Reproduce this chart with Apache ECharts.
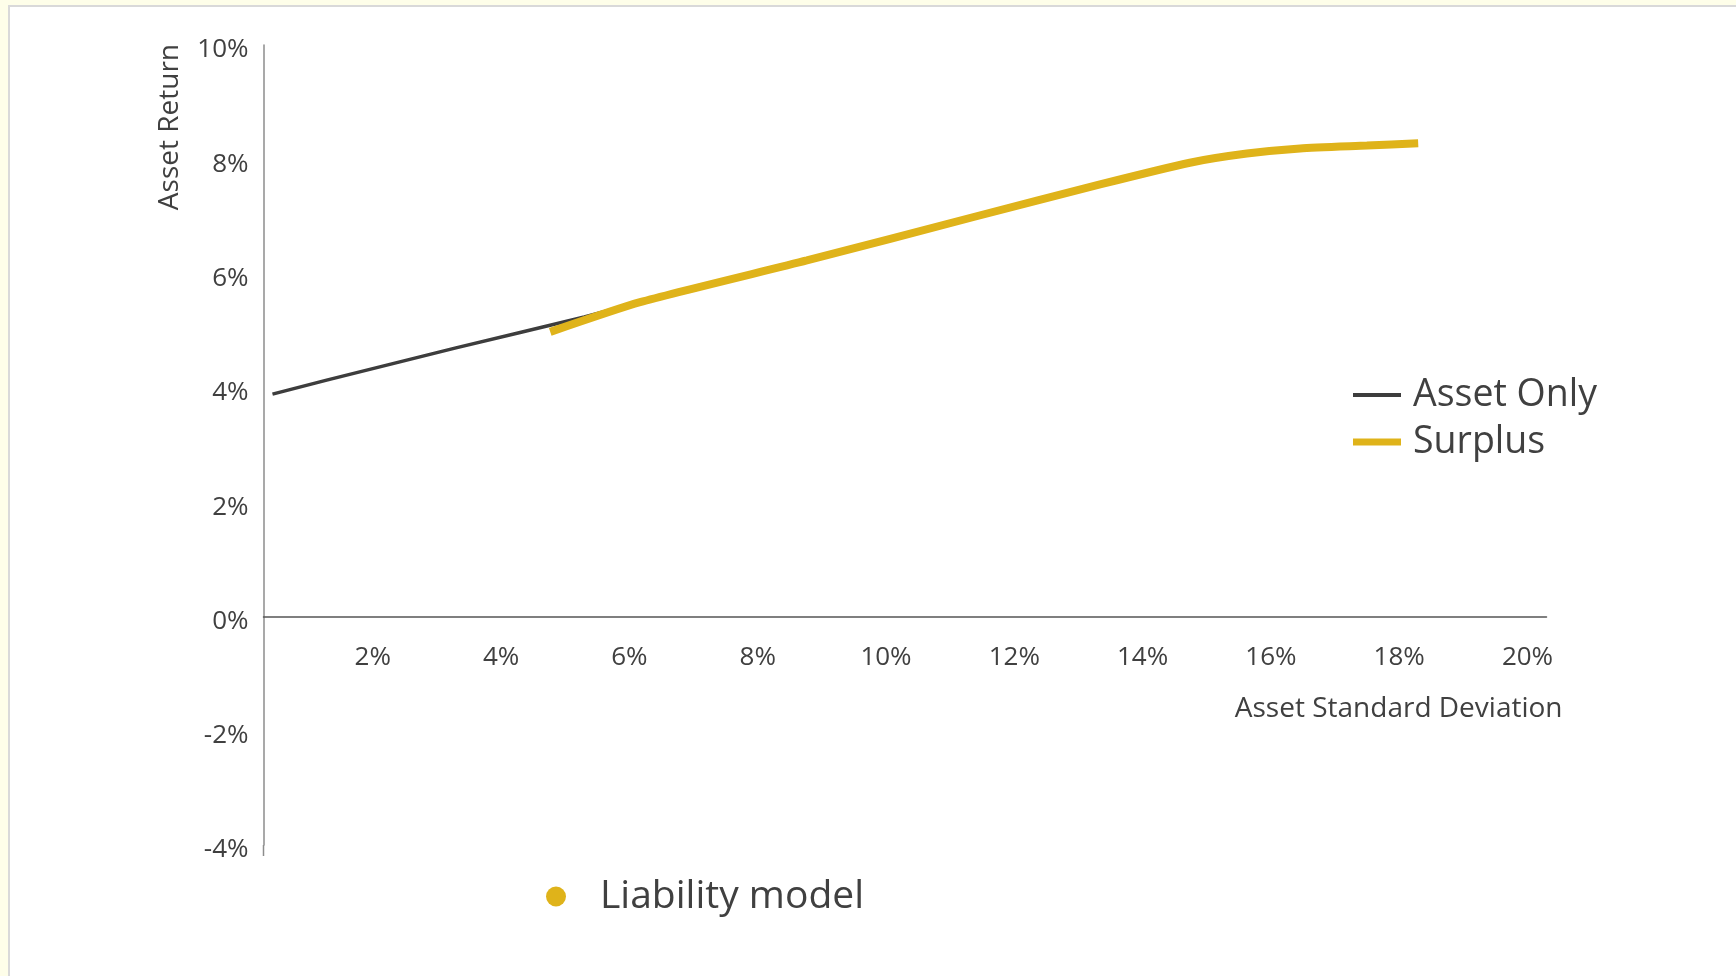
<!DOCTYPE html>
<html>
<head>
<meta charset="utf-8">
<title>Asset Return vs Asset Standard Deviation</title>
<script src="https://cdn.jsdelivr.net/npm/echarts@6/dist/echarts.min.js"></script>
<style>
  html, body { margin: 0; padding: 0; width: 1736px; height: 976px; overflow: hidden; background: #fefee9; }
  #panel { position: absolute; left: 8px; top: 5px; width: 1800px; height: 1000px; background: #ffffff; border-left: 2px solid #d9d9d9; border-top: 2px solid #d9d9d9; }
  #chart { position: absolute; left: 0; top: 0; width: 1736px; height: 976px; }
</style>
</head>
<body>
<div id="panel"></div>
<div id="chart"></div>
<script>
// Efficient frontiers: [standard deviation %, return %]
const assetOnly = [
  [0.14, 3.89], [1.0, 4.14], [2.0, 4.42], [3.0, 4.70],
  [4.0, 4.97], [5.0, 5.24], [5.87, 5.50], [6.2, 5.59]
];
const surplus = [
  [4.47, 4.98], [5.87, 5.50], [8.47, 6.23], [11.07, 6.99],
  [13.04, 7.56], [14.44, 7.94], [15.33, 8.10],
  [16.16, 8.19], [17.2, 8.24], [18.0, 8.28]
];
const liabilityModel = [];

const seriesNames = ['Asset Only', 'Surplus', 'Liability model'];
const xTitle = 'Asset Standard Deviation';
const yTitle = 'Asset Return';

const FONT = '"Open Sans", "Noto Sans", sans-serif';
const TEXT = '#404040';
const GOLD = '#dfb31a';
const DARK = '#3d3d3d';
const Y_AXIS_COLOR = '#8c8c8c';

// plot area: y from -4% (bottom) to 10% (top); the x axis sits on the 0% line
const GRID_TOP = 45, GRID_H = 800, Y_MIN = -4, Y_MAX = 10;
const zeroShift = GRID_H * (0 - Y_MIN) / (Y_MAX - Y_MIN);

const chart = echarts.init(document.getElementById('chart'), null, { renderer: 'canvas' });

chart.setOption({
  backgroundColor: 'transparent',
  animation: false,
  grid: { left: 263.5, right: 189.5, top: GRID_TOP, height: GRID_H, containLabel: false, outerBoundsMode: 'none' },
  xAxis: {
    type: 'value', min: 0, max: 20, interval: 2,
    position: 'bottom', offset: -zeroShift,
    axisLine: { show: true, onZero: false, lineStyle: { color: '#555555', width: 1.5 } },
    axisTick: { show: false },
    splitLine: { show: false },
    axisLabel: {
      showMinLabel: false, margin: 28,
      formatter: v => v + '%',
      color: TEXT, fontFamily: FONT, fontSize: 26,
      padding: [0, 38, 0, 0]
    }
  },
  yAxis: {
    type: 'value', min: Y_MIN, max: Y_MAX, interval: 2,
    axisLine: { show: true, onZero: false, lineStyle: { color: Y_AXIS_COLOR, width: 1.5 } },
    axisTick: { show: false },
    splitLine: { show: false },
    axisLabel: {
      margin: 15,
      formatter: v => v + '%',
      color: TEXT, fontFamily: FONT, fontSize: 26,
      verticalAlign: 'top', lineHeight: 10
    }
  },
  legend: [
    {
      orient: 'vertical', left: 1353, top: 376, padding: 0,
      itemWidth: 48, itemHeight: 14, itemGap: 9,
      textStyle: { color: TEXT, fontFamily: FONT, fontSize: 37.5, padding: [0, 0, 0, 7] },
      data: [
        { name: seriesNames[0], icon: 'path://M0,0H48V4H0Z' },
        { name: seriesNames[1], icon: 'path://M0,0H48V7H0Z' }
      ]
    },
    {
      orient: 'horizontal', left: 546, top: 877, padding: 0,
      itemWidth: 20, itemHeight: 20,
      textStyle: { color: TEXT, fontFamily: FONT, fontSize: 39, padding: [0, 0, 0, 29] },
      data: [{ name: seriesNames[2], icon: 'circle' }]
    }
  ],
  graphic: [
    {
      type: 'text', left: 156.5, top: 44, rotation: Math.PI / 2,
      style: { text: yTitle, fill: TEXT, font: '28px ' + FONT }
    },
    {
      type: 'text', right: 1736 - 1562.5, top: 695.5,
      style: { text: xTitle, fill: TEXT, font: '28px ' + FONT }
    }
  ],
  series: [
    {
      name: seriesNames[0], type: 'line', data: assetOnly,
      showSymbol: false, color: DARK,
      lineStyle: { color: DARK, width: 3.5 }, z: 2
    },
    {
      name: seriesNames[1], type: 'line', data: surplus,
      showSymbol: false, color: GOLD, smooth: 0.2,
      lineStyle: { color: GOLD, width: 8 }, z: 3
    },
    {
      name: seriesNames[2], type: 'scatter', data: liabilityModel,
      color: GOLD, symbolSize: 20, itemStyle: { color: GOLD, opacity: 1 }
    }
  ]
});

// the vertical axis line runs a little past the lowest tick
const axisBottom = chart.convertToPixel({ gridIndex: 0 }, [0, Y_MIN]);
chart.setOption({
  graphic: [{
    id: 'yAxisTail', type: 'line', silent: true,
    shape: { x1: axisBottom[0], y1: axisBottom[1], x2: axisBottom[0], y2: axisBottom[1] + 11 },
    style: { stroke: Y_AXIS_COLOR, lineWidth: 1.5 }
  }]
});
</script>
</body>
</html>
